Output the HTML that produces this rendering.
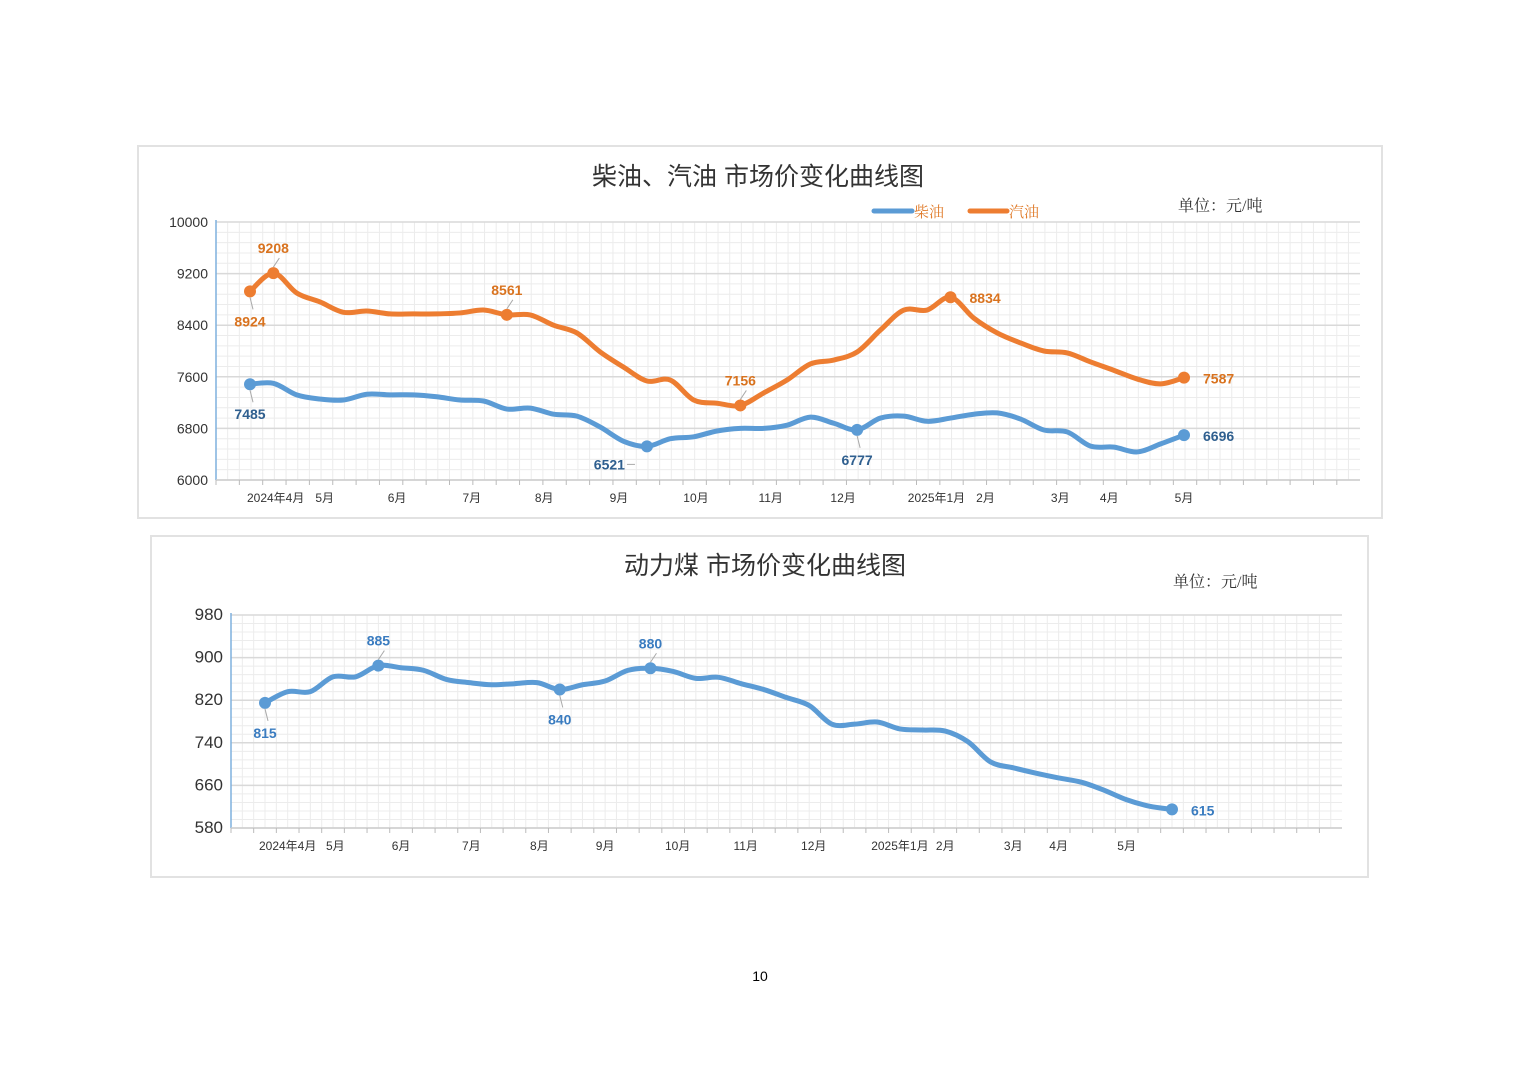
<!DOCTYPE html>
<html><head><meta charset="utf-8"><style>
body{margin:0;background:#fff;}
svg{display:block;font-family:"Liberation Sans","Noto Sans CJK SC",sans-serif;}
</style></head><body>
<svg id="s" width="1520" height="1074" viewBox="0 0 1520 1074">
<rect x="138" y="146" width="1244" height="372" fill="#fff" stroke="#e2e2e2" stroke-width="2"/>
<rect x="151" y="536" width="1217" height="341" fill="#fff" stroke="#e2e2e2" stroke-width="2"/>
<text x="758" y="185" text-anchor="middle" font-size="25" fill="#333">柴油、汽油 市场价变化曲线图</text>
<text x="765" y="574" text-anchor="middle" font-size="25" fill="#333">动力煤 市场价变化曲线图</text>
<text x="1178" y="211" font-size="16" fill="#333" font-family="Liberation Serif,'Noto Serif CJK SC',serif">单位：元/吨</text>
<text x="1173" y="587" font-size="16" fill="#333" font-family="Liberation Serif,'Noto Serif CJK SC',serif">单位：元/吨</text>
<g>
<line x1="874" y1="211" x2="912" y2="211" stroke="#5b9bd5" stroke-width="5" stroke-linecap="round"/>
<text x="914" y="217" font-size="15" fill="#e07b2a" font-family="Liberation Serif,'Noto Serif CJK SC',serif">柴油</text>
<line x1="970" y1="211" x2="1007" y2="211" stroke="#ed7d31" stroke-width="5" stroke-linecap="round"/>
<text x="1009" y="217" font-size="15" fill="#e07b2a" font-family="Liberation Serif,'Noto Serif CJK SC',serif">汽油</text>
</g>
<text x="760" y="981" text-anchor="middle" font-size="14" fill="#000">10</text>
</svg>
<script>
const gasoline=[8924,9208,8900,8760,8600,8620,8575,8575,8575,8590,8635,8561,8560,8400,8280,7985,7750,7535,7550,7240,7190,7156,7350,7550,7800,7860,7985,8325,8635,8635,8834,8510,8280,8125,8000,7970,7830,7700,7565,7490,7587];
const diesel=[7485,7500,7320,7255,7240,7330,7320,7320,7290,7240,7225,7100,7115,7020,6990,6820,6600,6521,6640,6670,6760,6800,6800,6850,6975,6880,6777,6960,6990,6910,6960,7020,7040,6945,6775,6745,6525,6510,6435,6560,6696];
const oilTicks=[6000,6800,7600,8400,9200,10000];
const oilMonths=["2024年4月","5月","6月","7月","8月","9月","10月","11月","12月","2025年1月","2月","3月","4月","5月"];
const oilMonthPos=[1.1,3.2,6.3,9.5,12.6,15.8,19.1,22.3,25.4,29.4,31.5,34.7,36.8,40];
const gasLabels=[[0,"8924","below"],[1,"9208","above"],[11,"8561","above"],[21,"7156","above"],[30,"8834","right"],[40,"7587","right"]];
const dieselLabels=[[0,"7485","below"],[17,"6521","left"],[26,"6777","below"],[40,"6696","right"]];
const coal=[815,836,836,864,864,885,881,876,859,853,849,851,853,840,849,856,876,880,874,861,863,851,840,825,810,775,775,779,766,764,762,742,704,693,683,674,666,651,633,621,615];
const coalTicks=[580,660,740,820,900,980];
const coalMonths=["2024年4月","5月","6月","7月","8月","9月","10月","11月","12月","2025年1月","2月","3月","4月","5月"];
const coalMonthPos=[1,3.1,6.0,9.1,12.1,15.0,18.2,21.2,24.2,28,30,33,35,38];
const coalLabels=[[0,"815","below"],[5,"885","above"],[13,"840","below"],[17,"880","above"],[40,"615","right"]];

const NS="http://www.w3.org/2000/svg";
const S=document.getElementById('s');
function el(t,a,p){const e=document.createElementNS(NS,t);for(const k in a)e.setAttribute(k,a[k]);(p||S).appendChild(e);return e;}
function smooth(pts){let d="M"+pts[0][0]+","+pts[0][1];for(let i=0;i<pts.length-1;i++){const p0=pts[i-1]||pts[i],p1=pts[i],p2=pts[i+1],p3=pts[i+2]||p2;const c1x=p1[0]+(p2[0]-p0[0])/6,c1y=p1[1]+(p2[1]-p0[1])/6,c2x=p2[0]-(p3[0]-p1[0])/6,c2y=p2[1]-(p3[1]-p1[1])/6;d+=" C"+c1x+","+c1y+" "+c2x+","+c2y+" "+p2[0]+","+p2[1];}return d;}

function chart(cfg){
  const {name,x0,x1,y0,y1,vmin,vmax,px0,px1,n,ticks,months,mpos,tickFont,tickSize,my}=cfg;
  const g=el('g',{});
  
  
  const sy=v=>y1-(v-vmin)/(vmax-vmin)*(y1-y0);
  const sx=i=>px0+i*(px1-px0)/(n-1);
  const grid=el('g',{},g);
  
  
  const step=(px1-px0)/(n-1)/2;
  for(let x=x0+step;x<=x1;x+=step){const l=el('line',{x1:x,x2:x,y1:y0,y2:y1,stroke:'#ececec','stroke-width':1},grid);}
  const nMinor=(ticks.length-1)*5;
  for(let k=1;k<nMinor;k++){const y=y1-k*(y1-y0)/nMinor;el('line',{x1:x0,x2:x1,y1:y,y2:y,stroke:'#ececec','stroke-width':1},grid);}
  ticks.forEach(t=>{const y=sy(t);
    const l=el('line',{x1:x0,x2:x1,y1:y,y2:y,stroke:'#d9d9d9','stroke-width':1.5},g);
    
    const tx=el('text',{x:x0-8,y:y+5,'text-anchor':'end','font-size':tickSize,fill:'#333'},g);
    tx.textContent=t;});
  const ax=el('line',{x1:x0,x2:x0,y1:y0-2,y2:y1,stroke:'#7fb0dd','stroke-width':1.5},g);
  
  const bx=el('line',{x1:x0,x2:x1,y1:y1,y2:y1,stroke:'#cfcfcf','stroke-width':1.5},g);
  
  for(let x=x0;x<=x1;x+=step*2){el('line',{x1:x,x2:x,y1:y1,y2:y1+5,stroke:'#bbb','stroke-width':1},g);}
  months.forEach((m,i)=>{const t=el('text',{x:sx(mpos[i]),y:my,'text-anchor':'middle','font-size':12,fill:'#333'},g);
    t.textContent=m;});
  cfg.series.forEach(s=>{
    const pts=s.data.map((v,i)=>[sx(i),sy(v)]);
    const p=el('path',{d:smooth(pts),fill:'none',stroke:s.color,'stroke-width':5,'stroke-linejoin':'round','stroke-linecap':'round'},g);
    
    s.labels.forEach(([i,txt,pos])=>{
      const [x,y]=pts[i];
      const c=el('circle',{cx:x,cy:y,r:6,fill:s.mark},g);
      
      let lx=x,ly=y,anchor='middle';
      if(pos==='above'){ly=y-20;el('line',{x1:x,y1:y-6,x2:x+6,y2:y-15,stroke:'#aaa'},g);}
      else if(pos==='below'){ly=y+35;el('line',{x1:x,y1:y+6,x2:x+3,y2:y+18,stroke:'#aaa'},g);}
      else if(pos==='right'){lx=x+19;ly=y+6;anchor='start';}
      else if(pos==='left'){lx=x-22;ly=y+23;anchor='end';el('line',{x1:x-20,y1:y+18,x2:x-12,y2:y+18,stroke:'#aaa'},g);}
      const t=el('text',{x:lx,y:ly,'text-anchor':anchor,'font-size':14,'font-weight':'bold',fill:s.lab},g);
      t.textContent=txt;
    });
  });
}
chart({name:'oil',x0:216,x1:1360,y0:222,y1:480,vmin:6000,vmax:10000,px0:250,px1:1184,n:gasoline.length,ticks:oilTicks,months:oilMonths,mpos:oilMonthPos,tickSize:14,my:502,
 series:[{name:'gasoline',data:gasoline,color:'#ed7d31',mark:'#ed7d31',lab:'#d9731f',labels:gasLabels},
         {name:'diesel',data:diesel,color:'#5b9bd5',mark:'#5b9bd5',lab:'#2f5f8f',labels:dieselLabels}]});
chart({name:'coal',x0:231,x1:1342,y0:615,y1:828,vmin:580,vmax:980,px0:265,px1:1172,n:coal.length,ticks:coalTicks,months:coalMonths,mpos:coalMonthPos,tickSize:17,my:850,
 series:[{name:'coal',data:coal,color:'#5b9bd5',mark:'#5b9bd5',lab:'#3a7cc0',labels:coalLabels}]});
</script>
</body></html>
